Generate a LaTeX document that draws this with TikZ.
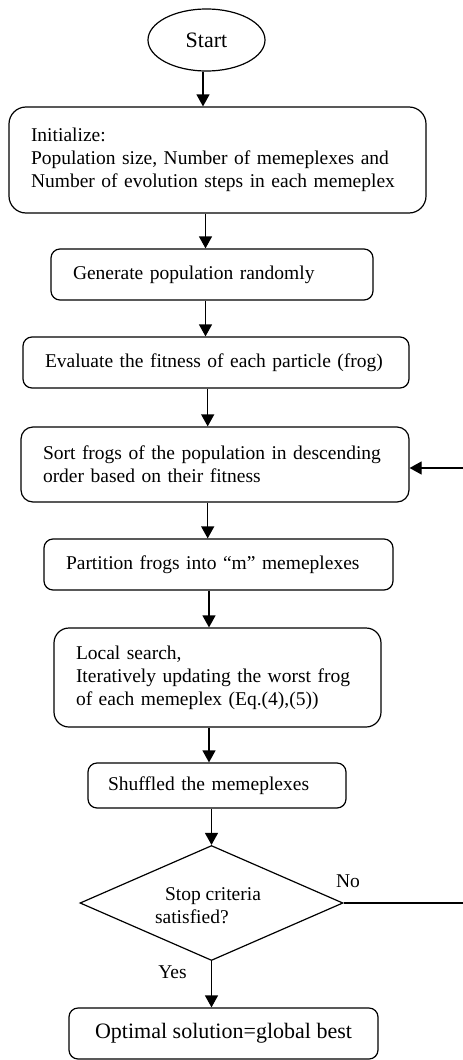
\documentclass[tikz,border=0pt]{standalone}
\usepackage{fontspec}
\setmainfont{Liberation Serif}
\usetikzlibrary{shapes.geometric,arrows.meta,calc}
\begin{document}
\begin{tikzpicture}[x=1pt,y=-1pt,
  every node/.style={font=\fontsize{19.5}{23}\selectfont},
  pbox/.style={draw,line width=1.2pt,rounded corners=#1,inner xsep=22pt,inner ysep=0pt,align=left},
  pbox/.default=9pt,
  arr/.style={line width=1.2pt,-{Triangle[length=12pt,width=13pt]}},
  conn/.style={line width=1.2pt}]
\useasboundingbox (0,0) rectangle (463,1060);
\node[draw,line width=1.2pt,ellipse,minimum width=117pt,minimum height=62pt,inner sep=0pt,font=\fontsize{22}{26}\selectfont] (start) at (206.5,40) {Start};
\node[pbox=17pt,minimum width=417pt,minimum height=106pt,text width=373pt] (init) at (217.5,160)
  {Initialize:\\Population size, Number of memeplexes and\\Number of evolution steps in each memeplex};
\node[pbox,minimum width=322pt,minimum height=51pt,text width=278pt] (gen) at (212,274.5)
  {Generate population randomly};
\node[pbox,minimum width=386pt,minimum height=51pt,text width=342pt] (eval) at (216,362.5)
  {\mbox{Evaluate the fitness of each particle (frog)}};
\node[pbox=12pt,minimum width=388pt,minimum height=75pt,text width=344pt] (sort) at (215,464.5)
  {Sort frogs of the population in descending\\order based on their fitness};
\node[pbox,minimum width=349pt,minimum height=51pt,text width=305pt] (part) at (218.5,564.5)
  {Partition frogs into “m” memeplexes};
\node[pbox=15pt,minimum width=327pt,minimum height=99pt,text width=283pt] (local) at (217.5,677.5)
  {Local search,\\Iteratively updating the worst frog\\of each memeplex (Eq.(4),(5))};
\node[pbox,minimum width=258pt,minimum height=45pt,text width=218pt,inner xsep=20pt] (shuf) at (217,785.5)
  {Shuffled the memeplexes};
\node[draw,line width=1.2pt,diamond,minimum width=263pt,minimum height=115pt,aspect=2.287,inner sep=0pt] (dec) at (211.5,903) {};
\node[align=left,inner sep=0pt] (dectext) at (208,906) {\hspace*{10pt}Stop criteria\\satisfied?};
\node[pbox,minimum width=309pt,minimum height=51pt,align=center,inner xsep=0pt,font=\fontsize{22}{26}\selectfont] (opt) at (223.5,1033.5)
  {Optimal solution=global best};
\node[anchor=base,inner sep=0pt] (no) at (348,887) {No};
\node[anchor=base,inner sep=0pt] (yes) at (172.5,978) {Yes};
\coordinate (fbBot) at (463,903);
\coordinate (fbTop) at (463,468);
\draw[arr] ([xshift=-3.5pt]start.south) -- ([xshift=-3.5pt]start.south |- init.north);
\draw[arr] ([xshift=-12pt]init.south) -- ([xshift=-12pt]init.south |- gen.north);
\draw[arr] ([xshift=-6.5pt]gen.south) -- ([xshift=-6.5pt]gen.south |- eval.north);
\draw[arr] ([xshift=-8.3pt]eval.south) -- ([xshift=-8.3pt]eval.south |- sort.north);
\draw[arr] ([xshift=-7.3pt]sort.south) -- ([xshift=-7.3pt]sort.south |- part.north);
\draw[arr] ([xshift=-9.5pt]part.south) -- ([xshift=-9.5pt]part.south |- local.north);
\draw[arr] ([xshift=-8.5pt]local.south) -- ([xshift=-8.5pt]local.south |- shuf.north);
\draw[arr] (dec.north |- shuf.south) -- (dec.north);
\draw[arr] (dec.south) -- (dec.south |- opt.north);
\draw[conn] (dec.east) -- (fbBot);
\draw[arr] (fbTop) -- (sort.east |- fbTop);
\end{tikzpicture}
\end{document}
